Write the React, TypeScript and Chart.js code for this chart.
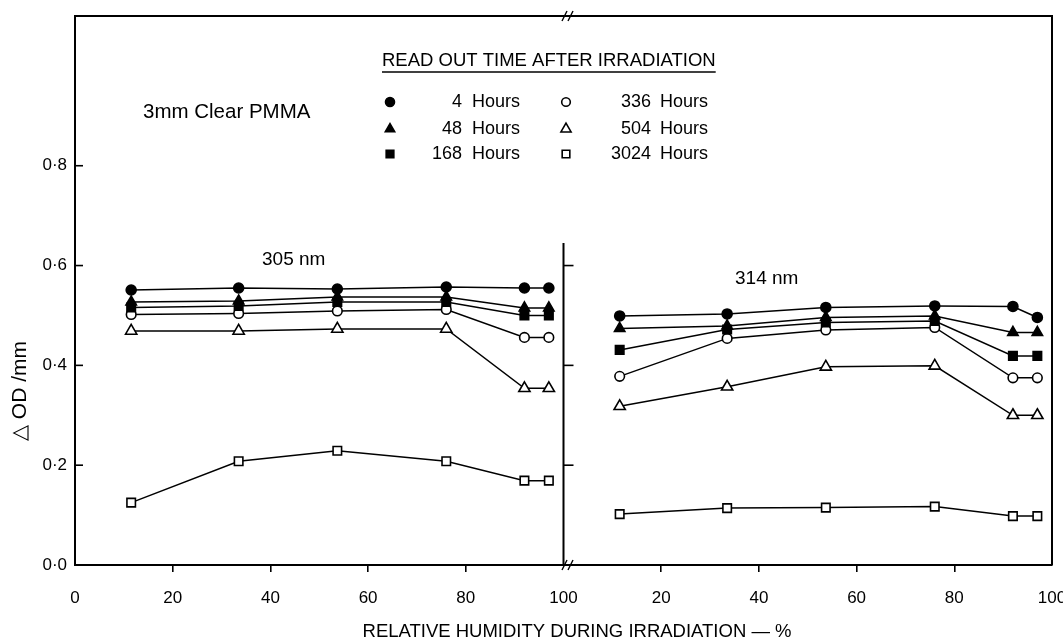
import React, { useEffect, useRef } from "react";
import { Chart, registerables } from "chart.js";

Chart.register(...registerables);

// Relative humidity during irradiation (%)
const humidity = [11.5, 33.5, 53.7, 76, 92, 97];

// 305 nm panel (left)
const h4_305 = [0.551, 0.555, 0.553, 0.557, 0.555, 0.555];
const h48_305 = [0.527, 0.529, 0.537, 0.537, 0.515, 0.515];
const h168_305 = [0.516, 0.519, 0.527, 0.527, 0.5, 0.5];
const h336_305 = [0.502, 0.504, 0.509, 0.512, 0.456, 0.456];
const h504_305 = [0.469, 0.469, 0.473, 0.473, 0.354, 0.354];
const h3024_305 = [0.125, 0.208, 0.229, 0.208, 0.169, 0.169];

// 314 nm panel (right)
const h4_314 = [0.499, 0.503, 0.516, 0.519, 0.518, 0.496];
const h48_314 = [0.474, 0.479, 0.496, 0.499, 0.466, 0.466];
const h168_314 = [0.431, 0.472, 0.486, 0.489, 0.419, 0.419];
const h336_314 = [0.378, 0.454, 0.471, 0.476, 0.375, 0.375];
const h504_314 = [0.318, 0.357, 0.397, 0.399, 0.3, 0.3];
const h3024_314 = [0.102, 0.114, 0.115, 0.117, 0.098, 0.098];

const seriesLabels = ["4 Hours", "48 Hours", "168 Hours", "336 Hours", "504 Hours", "3024 Hours"];
const xTickValues = [0, 20, 40, 60, 80, 100, 120, 140, 160, 180, 200];
const yTickLabels = ["0·0", "0·2", "0·4", "0·6", "0·8"];

const FONT = "'Liberation Sans', Arial, sans-serif";

type Style = { shape: "circle" | "triangle" | "rect"; filled: boolean; r: number };
const styles: Style[] = [
  { shape: "circle", filled: true, r: 5 },
  { shape: "triangle", filled: true, r: 6 },
  { shape: "rect", filled: true, r: 6 },
  { shape: "circle", filled: false, r: 4.8 },
  { shape: "triangle", filled: false, r: 6.5 },
  { shape: "rect", filled: false, r: 6 },
];

const left = [h4_305, h48_305, h168_305, h336_305, h504_305, h3024_305];
const right = [h4_314, h48_314, h168_314, h336_314, h504_314, h3024_314];

function buildData(i: number) {
  const pts: any[] = [];
  humidity.forEach((h, k) => pts.push({ x: h, y: left[i][k] }));
  pts.push({ x: 100, y: null });
  humidity.forEach((h, k) => pts.push({ x: h + 100, y: right[i][k] }));
  return pts;
}

function drawMarker(ctx: CanvasRenderingContext2D, s: Style, x: number, y: number) {
  ctx.save();
  ctx.beginPath();
  if (s.shape === "circle") ctx.arc(x, y, s.r, 0, Math.PI * 2);
  else if (s.shape === "triangle") {
    const r = s.r;
    ctx.moveTo(x, y - r);
    ctx.lineTo(x + r * Math.sin(Math.PI / 3), y + r * 0.5);
    ctx.lineTo(x - r * Math.sin(Math.PI / 3), y + r * 0.5);
    ctx.closePath();
  } else {
    const h = s.r / Math.SQRT2;
    ctx.rect(x - h, y - h, 2 * h, 2 * h);
  }
  ctx.fillStyle = s.filled ? "#000" : "#fff";
  ctx.fill();
  ctx.lineWidth = 1.6;
  ctx.strokeStyle = "#000";
  ctx.stroke();
  ctx.restore();
}

const decor = {
  id: "decor",
  afterDraw(chart: any) {
    const { ctx, chartArea: ca, scales } = chart;
    const xs = scales.x;
    const ys = scales.y;
    const xb = xs.getPixelForValue(100);
    ctx.save();
    ctx.strokeStyle = "#000";
    ctx.lineWidth = 2;
    // top and right frame
    ctx.beginPath();
    ctx.moveTo(ca.left, ca.top);
    ctx.lineTo(ca.right, ca.top);
    ctx.lineTo(ca.right, ca.bottom);
    ctx.stroke();
    // inner axis of right panel
    ctx.beginPath();
    ctx.moveTo(xb, ys.getPixelForValue(0.645));
    ctx.lineTo(xb, ca.bottom);
    ctx.stroke();
    // inward y ticks
    ctx.lineWidth = 1.6;
    [0.2, 0.4, 0.6, 0.8].forEach((v) => {
      const py = ys.getPixelForValue(v);
      ctx.beginPath();
      ctx.moveTo(ca.left, py);
      ctx.lineTo(ca.left + 8, py);
      ctx.stroke();
    });
    [0.2, 0.4, 0.6].forEach((v) => {
      const py = ys.getPixelForValue(v);
      ctx.beginPath();
      ctx.moveTo(xb, py);
      ctx.lineTo(xb + 10, py);
      ctx.stroke();
    });
    // axis breaks
    const brk = (cx: number, cy: number) => {
      ctx.lineWidth = 1.4;
      [-3, 3].forEach((d) => {
        ctx.beginPath();
        ctx.moveTo(cx + d - 2.5, cy + 5);
        ctx.lineTo(cx + d + 2.5, cy - 5);
        ctx.stroke();
      });
    };
    brk(xb + 4, ca.top);
    brk(xb + 4, ca.bottom);

    // texts
    ctx.fillStyle = "#000";
    ctx.textBaseline = "middle";
    ctx.font = `18.5px ${FONT}`;
    ctx.textAlign = "left";
    ctx.fillText("READ OUT TIME AFTER IRRADIATION", 382, 61);
    const tw = ctx.measureText("READ OUT TIME AFTER IRRADIATION").width;
    ctx.lineWidth = 1.5;
    ctx.beginPath();
    ctx.moveTo(382, 72);
    ctx.lineTo(382 + tw, 72);
    ctx.stroke();

    const rows = [102, 129, 154];
    ctx.font = `18px ${FONT}`;
    seriesLabels.forEach((lab, i) => {
      const col = Math.floor(i / 3);
      const row = i % 3;
      const mx = col === 0 ? 390 : 566;
      const nx = col === 0 ? 462 : 651;
      const hx = col === 0 ? 472 : 660;
      drawMarker(ctx, { ...styles[i], r: styles[i].r * 0.9 }, mx, rows[row]);
      const [num, word] = lab.split(" ");
      ctx.fillStyle = "#000";
      ctx.textAlign = "right";
      ctx.fillText(num, nx, rows[row]);
      ctx.textAlign = "left";
      ctx.fillText(word, hx, rows[row]);
    });

    ctx.font = `20.5px ${FONT}`;
    ctx.textAlign = "left";
    ctx.fillText("3mm Clear PMMA", 143, 112);
    ctx.font = `19px ${FONT}`;
    ctx.fillText("305 nm", 262, 260);
    ctx.fillText("314 nm", 735, 279);

    ctx.font = `18.5px ${FONT}`;
    ctx.textAlign = "center";
    ctx.fillText("RELATIVE HUMIDITY DURING IRRADIATION — %", 577, 632);

    ctx.save();
    ctx.translate(20, 391);
    ctx.rotate(-Math.PI / 2);
    ctx.font = `21px ${FONT}`;
    ctx.fillText("△ OD /mm", 0, 0);
    ctx.restore();
    ctx.restore();
  },
};

export default function App() {
  const ref = useRef<HTMLCanvasElement | null>(null);
  useEffect(() => {
    if (!ref.current) return;
    const datasets = seriesLabels.map((lab, i) => ({
      label: lab,
      data: buildData(i),
      borderColor: "#000",
      borderWidth: 1.5,
      backgroundColor: styles[i].filled ? "#000" : "#fff",
      pointStyle: styles[i].shape,
      pointRadius: styles[i].r,
      pointBorderColor: "#000",
      pointBackgroundColor: styles[i].filled ? "#000" : "#fff",
      pointBorderWidth: 1.6,
      spanGaps: false,
      tension: 0,
      showLine: true,
    }));
    const chart = new Chart(ref.current, {
      type: "scatter",
      data: { datasets },
      options: {
        animation: false,
        responsive: false,
        layout: { padding: { top: 16, right: 11, left: 0, bottom: 0 } },
        plugins: { legend: { display: false }, tooltip: { enabled: false } },
        scales: {
          x: {
            type: "linear",
            min: 0,
            max: 200,
            afterFit: (s: any) => {
              s.height = 75;
              s.paddingLeft = 0;
              s.paddingRight = 0;
            },
            afterBuildTicks: (s: any) => {
              s.ticks = xTickValues.map((v) => ({ value: v }));
            },
            ticks: {
              autoSkip: false,
              maxRotation: 0,
              padding: 16,
              color: "#000",
              font: { family: FONT, size: 17 },
              callback: (v: any) => String(v > 100 ? v - 100 : v),
            },
            grid: {
              drawOnChartArea: false,
              drawTicks: true,
              tickLength: 7,
              lineWidth: 1.6,
              color: (c: any) =>
                c.tick && [0, 100, 200].includes(c.tick.value) ? "rgba(0,0,0,0)" : "#000",
            },
            border: { display: true, color: "#000", width: 2 },
          },
          y: {
            type: "linear",
            min: 0,
            max: 1.1,
            afterFit: (s: any) => {
              s.width = 75;
              s.paddingTop = 0;
              s.paddingBottom = 0;
            },
            afterBuildTicks: (s: any) => {
              s.ticks = yTickLabels.map((_, k) => ({ value: k * 0.2 }));
            },
            ticks: {
              padding: 8,
              color: "#000",
              font: { family: FONT, size: 17 },
              callback: (_v: any, idx: number) => yTickLabels[idx],
            },
            grid: { drawOnChartArea: false, drawTicks: false },
            border: { display: true, color: "#000", width: 2 },
          },
        },
      },
      plugins: [decor],
    } as any);
    return () => chart.destroy();
  }, []);
  return (
    <div style={{ position: "fixed", left: 0, top: 0, width: 1063, height: 640, background: "#fff" }}>
      <canvas ref={ref} width={1063} height={640} style={{ width: 1063, height: 640 }} />
    </div>
  );
}
